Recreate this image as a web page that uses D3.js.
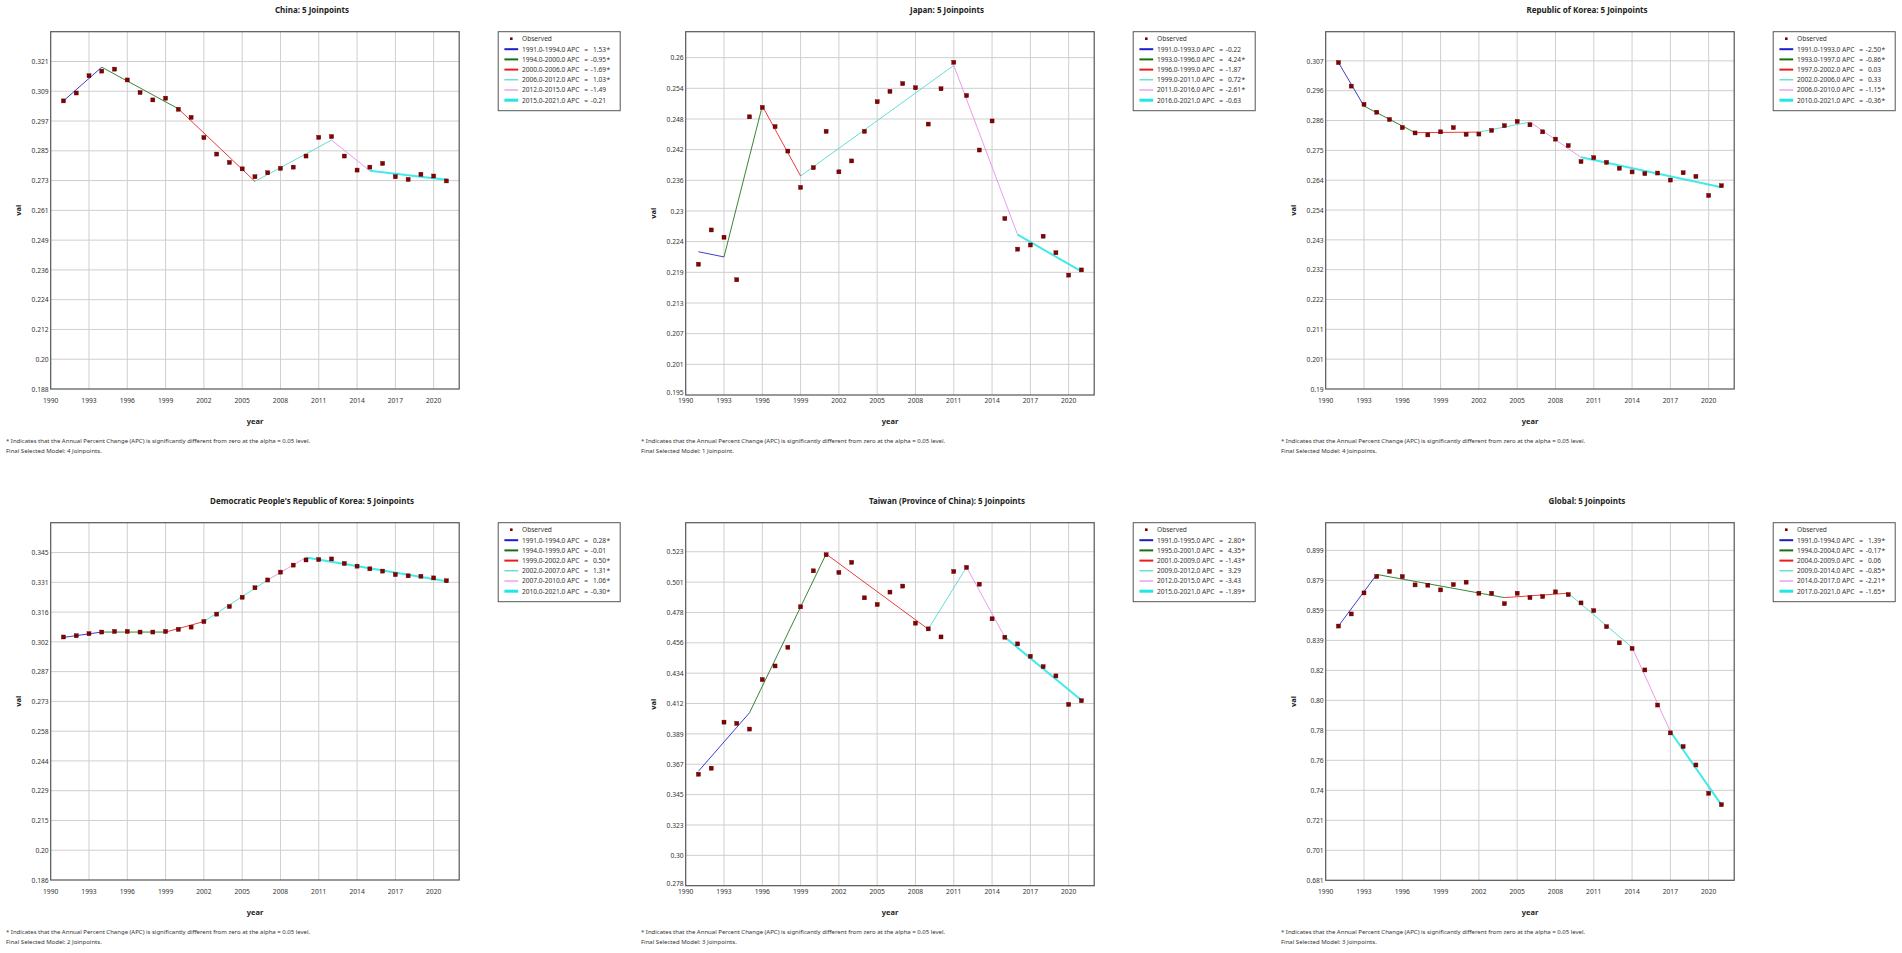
<!DOCTYPE html>
<html>
<head>
<meta charset="utf-8">
<script src="https://cdn.jsdelivr.net/npm/d3@7"></script>
<style>
body { margin: 0; background: #fff; }
text { font-family: "Segoe UI", "Noto Sans", sans-serif; fill: #222; }
</style>
</head>
<body>
<div id="chart"></div>
<script>
// ---- data ----
var years = [1991,1992,1993,1994,1995,1996,1997,1998,1999,2000,2001,2002,2003,2004,2005,2006,
             2007,2008,2009,2010,2011,2012,2013,2014,2015,2016,2017,2018,2019,2020,2021];
var xTicks = [1990,1993,1996,1999,2002,2005,2008,2011,2014,2017,2020];

var chinaObs = [0.3050,0.3082,0.3152,0.3171,0.3179,0.3135,0.3084,0.3054,0.3061,0.3016,0.2983,0.2901,0.2834,0.2800,0.2774,0.2742,
                0.2758,0.2776,0.2781,0.2826,0.2902,0.2905,0.2826,0.2769,0.2781,0.2796,0.2742,0.2731,0.2752,0.2745,0.2725];
var chinaJoin = [1991,1994,2000,2006,2012,2015,2021];
var chinaFit = [0.3050,0.3187,0.3018,0.2723,0.2891,0.2766,0.2730];
var chinaApc = ["1.53*","-0.95*","-1.69*","1.03*","-1.49","-0.21"];
var chinaTicks = ["0.188","0.20","0.212","0.224","0.236","0.249","0.261","0.273","0.285","0.297","0.309","0.321"];

var japanObs = [0.2202,0.2268,0.2254,0.2172,0.2486,0.2504,0.2467,0.2420,0.2350,0.2388,0.2458,0.2380,0.2401,0.2458,0.2515,0.2535,
                0.2550,0.2542,0.2472,0.2540,0.2591,0.2527,0.2422,0.2478,0.2290,0.2231,0.2239,0.2256,0.2224,0.2181,0.2191];
var japanJoin = [1991,1993,1996,1999,2011,2016,2021];
var japanFit = [0.2226,0.2216,0.2507,0.2372,0.2585,0.2259,0.2188];
var japanApc = ["-0.22","4.24*","-1.87","0.72*","-2.61*","-0.63"];
var japanTicks = ["0.195","0.201","0.207","0.213","0.219","0.224","0.23","0.236","0.242","0.248","0.254","0.26"];

var rokObs = [0.3064,0.2980,0.2915,0.2887,0.2861,0.2832,0.2813,0.2806,0.2817,0.2832,0.2808,0.2809,0.2822,0.2839,0.2854,0.2842,
              0.2817,0.2791,0.2768,0.2711,0.2725,0.2708,0.2687,0.2674,0.2668,0.2670,0.2645,0.2671,0.2658,0.2590,0.2625];
var rokJoin = [1991,1993,1997,2002,2006,2010,2021];
var rokFit = [0.3064,0.2909,0.2814,0.2816,0.2852,0.2726,0.2619];
var rokApc = ["-2.50*","-0.86*","0.03","0.33","-1.15*","-0.36*"];
var rokTicks = ["0.19","0.201","0.211","0.222","0.232","0.243","0.254","0.264","0.275","0.286","0.296","0.307"];

var dprkObs = [0.3040,0.3046,0.3056,0.3064,0.3067,0.3067,0.3064,0.3064,0.3067,0.3077,0.3088,0.3115,0.3151,0.3188,0.3233,0.3279,
               0.3317,0.3355,0.3389,0.3414,0.3416,0.3419,0.3397,0.3384,0.3371,0.3360,0.3343,0.3337,0.3335,0.3327,0.3313];
var dprkJoin = [1991,1994,1999,2002,2007,2010,2021];
var dprkFit = [0.3038,0.3064,0.3064,0.3115,0.3317,0.3426,0.3311];
var dprkApc = ["0.28*","-0.01","0.50*","1.31*","1.06*","-0.30*"];
var dprkTicks = ["0.186","0.20","0.215","0.229","0.244","0.258","0.273","0.287","0.302","0.316","0.331","0.345"];

var taiwanObs = [0.3598,0.3642,0.3980,0.3971,0.3929,0.4292,0.4392,0.4529,0.4826,0.5090,0.5208,0.5078,0.5152,0.4892,0.4843,0.4934,
                 0.4978,0.4706,0.4664,0.4605,0.5085,0.5115,0.4992,0.4738,0.4603,0.4554,0.4463,0.4387,0.4319,0.4110,0.4137];
var taiwanJoin = [1991,1995,2001,2009,2012,2015,2021];
var taiwanFit = [0.3620,0.4049,0.5213,0.4662,0.5117,0.4603,0.4140];
var taiwanApc = ["2.80*","4.35*","-1.43*","3.29","-3.43","-1.89*"];
var taiwanTicks = ["0.278","0.30","0.323","0.345","0.367","0.389","0.412","0.434","0.456","0.478","0.501","0.523"];

var globalObs = [0.8490,0.8570,0.8709,0.8817,0.8851,0.8817,0.8762,0.8760,0.8729,0.8764,0.8780,0.8707,0.8707,0.8638,0.8707,0.8678,
                 0.8685,0.8716,0.8698,0.8643,0.8592,0.8486,0.8379,0.8342,0.8200,0.7968,0.7784,0.7694,0.7572,0.7385,0.7310];
var globalJoin = [1991,1994,2004,2009,2014,2017,2021];
var globalFit = [0.8490,0.8831,0.8678,0.8707,0.8349,0.7793,0.7308];
var globalApc = ["1.39*","-0.17*","0.06","-0.85*","-2.21*","-1.65*"];
var globalTicks = ["0.681","0.701","0.721","0.74","0.76","0.78","0.80","0.82","0.839","0.859","0.879","0.899"];

var FOOT_NOTE = "* Indicates that the Annual Percent Change (APC) is significantly different from zero at the alpha = 0.05 level.";

// ---- layout ----
var PANEL_LEFT = [0, 635, 1275];
var ROW_TOP = [0, 491];
var PLOT_X = 50.7;
var PLOT_W = 408.5;
var PLOT_TOP = 31.7;
var LEGEND_GAP = 39;
var LEGEND_W = 122;
var LEGEND_H = 79;
var SEG_COLORS = ["#1c1cc8", "#157015", "#e81c1c", "#48d8cc", "#e88ae8", "#22e6e6"];
var SEG_WIDTH = [1, 1, 1, 1, 1, 2];
var LEG_WIDTH = [2, 2, 2, 1.2, 1.2, 3];
var GRID = "#cfcfcf";
var BORDER = "#555";
var MARK = "#870000";

var panels = [
    {title: "China: 5 Joinpoints", col: 0, row: 0, obs: chinaObs, join: chinaJoin, fit: chinaFit, apc: chinaApc,
     ticks: chinaTicks, yMax: 0.3331, bottom: 389, model: "4 Joinpoints."},
    {title: "Japan: 5 Joinpoints", col: 1, row: 0, obs: japanObs, join: japanJoin, fit: japanFit, apc: japanApc,
     ticks: japanTicks, yMax: 0.2650, bottom: 395, model: "1 Joinpoint."},
    {title: "Republic of Korea: 5 Joinpoints", col: 2, row: 0, obs: rokObs, join: rokJoin, fit: rokFit, apc: rokApc,
     ticks: rokTicks, yMax: 0.3174, bottom: 389, model: "4 Joinpoints."},
    {title: "Democratic People's Republic of Korea: 5 Joinpoints", col: 0, row: 1, obs: dprkObs, join: dprkJoin, fit: dprkFit, apc: dprkApc,
     ticks: dprkTicks, yMax: 0.3595, bottom: 389, model: "2 Joinpoints."},
    {title: "Taiwan (Province of China): 5 Joinpoints", col: 1, row: 1, obs: taiwanObs, join: taiwanJoin, fit: taiwanFit, apc: taiwanApc,
     ticks: taiwanTicks, yMax: 0.5443, bottom: 394.7, model: "3 Joinpoints."},
    {title: "Global: 5 Joinpoints", col: 2, row: 1, obs: globalObs, join: globalJoin, fit: globalFit, apc: globalApc,
     ticks: globalTicks, yMax: 0.9173, bottom: 389.3, model: "3 Joinpoints."}
];

var svg = d3.select("#chart")
            .append("svg")
            .attr("width", 1902)
            .attr("height", 953)
            .style("display", "block");

svg.append("rect").attr("width", 1902).attr("height", 953).attr("fill", "#fff");

panels.forEach(function(p) {
    var g = svg.append("g")
               .attr("transform", "translate(" + PANEL_LEFT[p.col] + "," + ROW_TOP[p.row] + ")");

    var yMin = +p.ticks[0];
    var yStep = (+p.ticks[p.ticks.length - 1] - yMin) / (p.ticks.length - 1);
    var tickVals = p.ticks.map(function(t, i) { return yMin + i * yStep; });

    var x = d3.scaleLinear().domain([1990, 2022]).range([PLOT_X, PLOT_X + PLOT_W]);
    var y = d3.scaleLinear().domain([yMin, p.yMax]).range([p.bottom, PLOT_TOP]);

    // title, centred on the whole panel
    g.append("text")
     .attr("x", 312)
     .attr("y", 13)
     .attr("text-anchor", "middle")
     .attr("font-size", "8px")
     .attr("font-weight", "bold")
     .text(p.title);

    // gridlines
    g.append("g")
     .selectAll("line.hg")
     .data(tickVals.slice(1))
     .enter().append("line")
     .attr("x1", PLOT_X).attr("x2", PLOT_X + PLOT_W)
     .attr("y1", function(d) { return y(d); })
     .attr("y2", function(d) { return y(d); })
     .attr("stroke", GRID).attr("stroke-width", 1);

    g.append("g")
     .selectAll("line.vg")
     .data(xTicks.slice(1))
     .enter().append("line")
     .attr("x1", function(d) { return x(d); })
     .attr("x2", function(d) { return x(d); })
     .attr("y1", PLOT_TOP).attr("y2", p.bottom)
     .attr("stroke", GRID).attr("stroke-width", 1);

    // plot frame
    g.append("rect")
     .attr("x", PLOT_X).attr("y", PLOT_TOP)
     .attr("width", PLOT_W).attr("height", p.bottom - PLOT_TOP)
     .attr("fill", "none").attr("stroke", BORDER).attr("stroke-width", 1.2);

    // y axis labels
    var yAxis = d3.axisLeft(y)
                  .tickValues(tickVals)
                  .tickFormat(function(d, i) { return p.ticks[i]; })
                  .tickSize(0)
                  .tickPadding(2);
    var ya = g.append("g").attr("transform", "translate(" + PLOT_X + ",0)").call(yAxis);
    ya.select(".domain").remove();
    ya.attr("font-family", null).attr("font-size", null);
    ya.selectAll("text").attr("font-size", "6.7px").style("fill", "#333");
    // the lowest label sits right on the year row in some panels: lift it a touch
    if (p.bottom > 392) {
        ya.selectAll("text").filter(function(d, i) { return i === 0; }).attr("dy", "-0.05em");
    }

    // x axis labels (fixed row under every plot)
    g.append("g")
     .selectAll("text")
     .data(xTicks)
     .enter().append("text")
     .attr("x", function(d) { return x(d); })
     .attr("y", 402.6)
     .attr("text-anchor", "middle")
     .attr("font-size", "6.7px")
     .style("fill", "#333")
     .text(function(d) { return d; });

    // axis titles
    g.append("text")
     .attr("x", PLOT_X + PLOT_W / 2)
     .attr("y", 423.8)
     .attr("text-anchor", "middle")
     .attr("font-size", "7.5px")
     .attr("font-weight", "bold")
     .text("year");

    g.append("text")
     .attr("transform", "translate(20.5," + ((PLOT_TOP + p.bottom) / 2) + ") rotate(-90)")
     .attr("text-anchor", "middle")
     .attr("font-size", "7.5px")
     .attr("font-weight", "bold")
     .text("val");

    // joinpoint segments
    var segs = p.apc.map(function(a, i) {
        return {x0: p.join[i], y0: p.fit[i], x1: p.join[i + 1], y1: p.fit[i + 1], i: i};
    });
    g.append("g")
     .selectAll("line")
     .data(segs)
     .enter().append("line")
     .attr("x1", function(d) { return x(d.x0); })
     .attr("y1", function(d) { return y(d.y0); })
     .attr("x2", function(d) { return x(d.x1); })
     .attr("y2", function(d) { return y(d.y1); })
     .attr("stroke", function(d) { return SEG_COLORS[d.i]; })
     .attr("stroke-width", function(d) { return SEG_WIDTH[d.i]; })
     .attr("stroke-opacity", 0.85);

    // observed points
    g.append("g")
     .selectAll("rect")
     .data(p.obs)
     .enter().append("rect")
     .attr("x", function(d, i) { return x(years[i]) - 2; })
     .attr("y", function(d) { return y(d) - 2; })
     .attr("width", 4).attr("height", 4)
     .attr("fill", MARK)
     .attr("stroke", "#4a0000").attr("stroke-width", 0.4);

    // legend
    var lg = g.append("g")
              .attr("transform", "translate(" + (PLOT_X + PLOT_W + LEGEND_GAP) + "," + PLOT_TOP + ")");
    lg.append("rect")
      .attr("width", LEGEND_W).attr("height", LEGEND_H)
      .attr("fill", "#fff").attr("stroke", BORDER).attr("stroke-width", 1);

    var rowY = function(i) { return 7.3 + i * 10.2; };
    lg.append("rect")
      .attr("x", 11.8).attr("y", rowY(0) - 1.6)
      .attr("width", 2.6).attr("height", 2.6)
      .attr("fill", MARK);
    lg.append("text")
      .attr("x", 23.8).attr("y", rowY(0)).attr("dy", "0.35em")
      .attr("font-size", "6.6px").style("fill", "#333")
      .text("Observed");

    var rows = lg.selectAll("g.row")
                 .data(segs)
                 .enter().append("g")
                 .attr("transform", function(d) { return "translate(0," + rowY(d.i + 1) + ")"; });
    rows.append("line")
        .attr("x1", 6.2).attr("x2", 20)
        .attr("stroke", function(d) { return SEG_COLORS[d.i]; })
        .attr("stroke-width", function(d) { return LEG_WIDTH[d.i]; });
    rows.append("text")
        .attr("x", 23.8).attr("dy", "0.35em")
        .attr("font-size", "6.6px").style("fill", "#333")
        .text(function(d) { return d.x0.toFixed(1) + "-" + d.x1.toFixed(1) + " APC"; });
    rows.append("text")
        .attr("x", 88).attr("dy", "0.35em")
        .attr("text-anchor", "middle")
        .attr("font-size", "6.6px").style("fill", "#333")
        .text("=");
    rows.append("text")
        .attr("x", 107.8).attr("dy", "0.35em")
        .attr("text-anchor", "end")
        .attr("font-size", "6.6px").style("fill", "#333")
        .text(function(d) { return p.apc[d.i].replace("*", ""); });
    rows.append("text")
        .attr("x", 108.2).attr("dy", "0.35em")
        .attr("font-size", "6.6px").style("fill", "#333")
        .text(function(d) { return p.apc[d.i].indexOf("*") >= 0 ? "*" : ""; });

    // foot notes
    g.append("text")
     .attr("x", 6).attr("y", 443.2)
     .attr("font-size", "6px").style("fill", "#333")
     .text(FOOT_NOTE);
    g.append("text")
     .attr("x", 6).attr("y", 453.2)
     .attr("font-size", "6px").style("fill", "#333")
     .text("Final Selected Model: " + p.model);
});
</script>
</body>
</html>
